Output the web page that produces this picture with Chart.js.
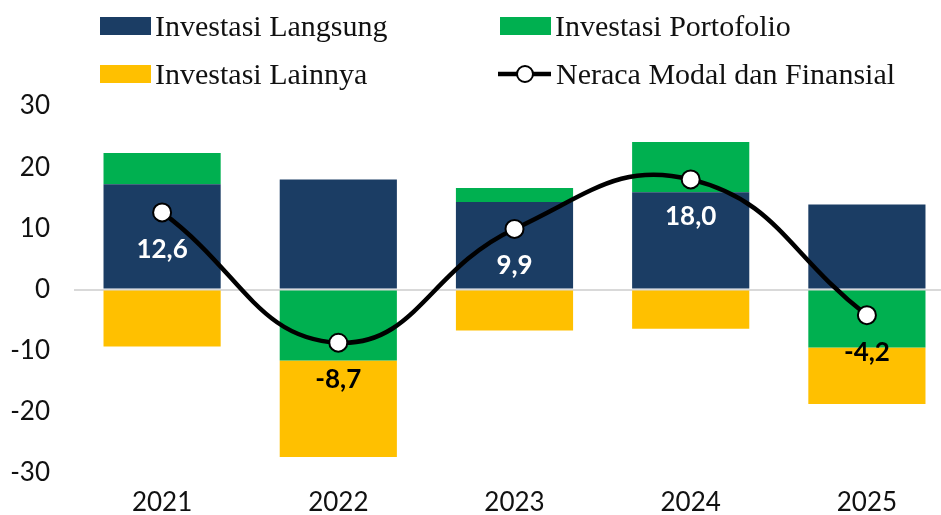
<!DOCTYPE html>
<html>
<head>
<meta charset="utf-8">
<script src="https://cdn.jsdelivr.net/npm/chart.js@4.4.1/dist/chart.umd.min.js"></script>
<style>
  html, body { margin: 0; padding: 0; background: #fff; overflow: hidden; }
  #wrap { position: relative; width: 966px; height: 515px; }
  #legend { position: absolute; left: 0; top: 0; width: 941px; height: 100px; font-family: "Liberation Serif", serif; font-size: 30px; color: #111; }
  .item { position: absolute; display: flex; align-items: center; height: 32px; }
  .sw { width: 51px; height: 18px; margin-right: 4px; }
  .mk { width: 55px; height: 30px; margin-right: 4px; }
</style>
</head>
<body>
<div id="wrap">
  <canvas id="chart" width="966" height="515"></canvas>
  <div id="legend"></div>
</div>
<script>
// Data
const years = ['2021', '2022', '2023', '2024', '2025'];
const langsung = [17.2, 18.0, 14.3, 15.9, 13.9];
const portofolio = [5.1, -11.6, 2.3, 8.2, -9.5];
const lainnya = [-9.3, -15.8, -6.7, -6.4, -9.2];
const neraca = [12.6, -8.7, 9.9, 18.0, -4.2];
const yTicks = [30, 20, 10, 0, -10, -20, -30];

const colors = { langsung: '#1b3d64', portofolio: '#00b050', lainnya: '#ffc000' };

// legend built by hand (two columns in the original)
const legendItems = [
  { label: 'Investasi Langsung', color: colors.langsung, x: 100, y: 10 },
  { label: 'Investasi Portofolio', color: colors.portofolio, x: 500, y: 10 },
  { label: 'Investasi Lainnya', color: colors.lainnya, x: 100, y: 58 },
  { label: 'Neraca Modal dan Finansial', line: true, x: 497, y: 58 }
];
const legendEl = document.getElementById('legend');
legendItems.forEach(it => {
  const d = document.createElement('div');
  d.className = 'item';
  d.style.left = it.x + 'px'; d.style.top = it.y + 'px';
  if (it.line) {
    d.innerHTML = '<svg class="mk" viewBox="0 0 55 30"><line x1="1" y1="15" x2="54" y2="15" stroke="#000" stroke-width="4.5"/>' +
      '<circle cx="28" cy="15" r="8" fill="#fff" stroke="#000" stroke-width="2"/></svg>';
  } else {
    d.innerHTML = '<div class="sw" style="background:' + it.color + '"></div>';
  }
  const s = document.createElement('span'); s.textContent = it.label; d.appendChild(s);
  legendEl.appendChild(d);
});

// value labels under the line points
const pointLabels = {
  id: 'pointLabels',
  afterDatasetsDraw(chart) {
    const ctx = chart.ctx;
    const meta = chart.getDatasetMeta(3);
    ctx.save();
    ctx.font = 'bold 26px Lato';
    ctx.textAlign = 'center';
    ctx.textBaseline = 'middle';
    meta.data.forEach((pt, i) => {
      const v = neraca[i];
      ctx.fillStyle = v >= 0 ? '#fff' : '#000';
      ctx.fillText(v.toFixed(1).replace('.', ','), pt.x, pt.y + 37);
    });
    ctx.restore();
  }
};

new Chart(document.getElementById('chart'), {
  type: 'bar',
  data: {
    labels: years,
    datasets: [
      { label: 'Investasi Langsung', data: langsung, backgroundColor: colors.langsung, stack: 'bars', order: 1, barPercentage: 0.665, categoryPercentage: 1 },
      { label: 'Investasi Portofolio', data: portofolio, backgroundColor: colors.portofolio, stack: 'bars', order: 1, barPercentage: 0.665, categoryPercentage: 1 },
      { label: 'Investasi Lainnya', data: lainnya, backgroundColor: colors.lainnya, stack: 'bars', order: 1, barPercentage: 0.665, categoryPercentage: 1 },
      { type: 'line', label: 'Neraca Modal dan Finansial', data: neraca, stack: 'line', order: 0,
        borderColor: '#000', borderWidth: 4.5, tension: 0.45,
        pointRadius: 9, pointBackgroundColor: '#fff', pointBorderColor: '#000', pointBorderWidth: 2 }
    ]
  },
  options: {
    responsive: false,
    animation: false,
    layout: { padding: { top: 106, right: 1, left: 0, bottom: 0 } },
    plugins: { legend: { display: false }, tooltip: { enabled: false } },
    scales: {
      x: {
        stacked: true,
        grid: { display: false, drawTicks: false },
        border: { display: false },
        ticks: { color: '#111', font: { family: 'Lato', size: 26 }, padding: 14 },
        afterFit: s => { s.height = 42; }
      },
      y: {
        stacked: true,
        min: -30, max: 30,
        grid: {
          drawTicks: false,
          color: c => c.tick.value === 0 ? '#d9d9d9' : 'transparent',
          lineWidth: 2
        },
        border: { display: false },
        afterBuildTicks: s => { s.ticks = yTicks.map(v => ({ value: v })); },
        ticks: { color: '#111', font: { family: 'Lato', size: 26 }, padding: 24 },
        afterFit: s => { s.width = 74; }
      }
    }
  },
  plugins: [pointLabels]
});
</script>
</body>
</html>
